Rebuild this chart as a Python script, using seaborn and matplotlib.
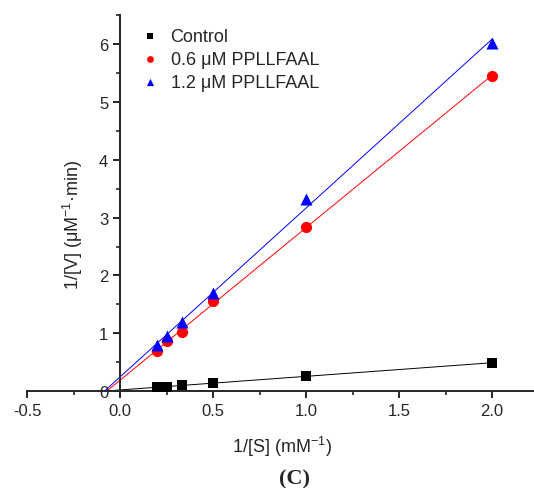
import numpy as np
import pandas as pd
import matplotlib
matplotlib.use("Agg")
import matplotlib.pyplot as plt
import seaborn as sns
from matplotlib.ticker import MultipleLocator

sns.set_style("ticks")
plt.rcParams['font.family'] = ['Liberation Sans', 'DejaVu Sans']
plt.rcParams['mathtext.fontset'] = 'custom'
plt.rcParams['mathtext.rm'] = 'Liberation Sans'

inv_s = [0.2, 0.25, 0.333, 0.5, 1.0, 2.0]
control = [0.07, 0.075, 0.10, 0.14, 0.26, 0.49]
pep06 = [0.69, 0.86, 1.03, 1.56, 2.84, 5.45]
pep12 = [0.79, 0.96, 1.19, 1.70, 3.32, 6.02]
labels = ["Control", "0.6 μM PPLLFAAL", "1.2 μM PPLLFAAL"]
colors = ["black", "red", "blue"]
markers = ["s", "o", "^"]
sizes = [55, 65, 75]

fig = plt.figure(figsize=(5.34, 4.89), dpi=100)
ax = fig.add_axes([0.0506, 0.198, 0.951, 0.769])

series = [control, pep06, pep12]
for ys, lab, c, m, s in zip(series, labels, colors, markers, sizes):
    k, b = np.polyfit(inv_s, ys, 1)
    xf = np.array([-0.1, 2.0])
    fit = pd.DataFrame({"x": xf, "y": k * xf + b})
    sns.lineplot(data=fit, x="x", y="y", color=c, lw=0.7, ax=ax, legend=False, zorder=2)
for ys, lab, c, m, s in zip(series, labels, colors, markers, sizes):
    df = pd.DataFrame({"x": inv_s, "y": ys})
    sns.scatterplot(data=df, x="x", y="y", color=c, marker=m, s=s, edgecolor=c,
                    linewidth=0, ax=ax, label=lab, zorder=3)

ax.set_xlim(-0.5, 2.23)
ax.set_ylim(0, 6.5)
ax.spines['left'].set_position(('data', 0))
ax.spines['top'].set_visible(False)
ax.spines['right'].set_visible(False)
for sp in ['left', 'bottom']:
    ax.spines[sp].set_linewidth(1.4)
ax.xaxis.set_major_locator(MultipleLocator(0.5))
ax.xaxis.set_minor_locator(MultipleLocator(0.25))
ax.yaxis.set_major_locator(MultipleLocator(1))
ax.yaxis.set_minor_locator(MultipleLocator(0.5))
ax.set_xticks([-0.5, 0.0, 0.5, 1.0, 1.5, 2.0])
ax.set_xticklabels(["-0.5", "0.0", "0.5", "1.0", "1.5", "2.0"])
ax.tick_params(which='major', direction='out', length=5, width=1.4, labelsize=12)
ax.tick_params(which='minor', direction='out', length=3, width=1.2)

ax.set_xlabel("")
ax.set_ylabel("")
fig.text(0.528, 1 - 447 / 489, "1/[S] (mM$^{-1}$)", fontsize=13, ha='center', va='center')
fig.text(73 / 534, 1 - 225 / 489, "1/[V] (μM$^{-1}$·min)", rotation=90, fontsize=13,
         ha='center', va='center')
fig.text(294 / 534, 1 - 479 / 489, "(C)", fontsize=16, fontweight='bold',
         family='Liberation Serif', ha='center', va='center')

ax.legend(loc='upper left', bbox_to_anchor=(0.224, 0.966), frameon=False,
          fontsize=13, handlelength=1.0, handletextpad=0.65, labelspacing=0.34,
          borderaxespad=0, borderpad=0, markerscale=0.6)

fig.savefig("out.png", dpi=100)
